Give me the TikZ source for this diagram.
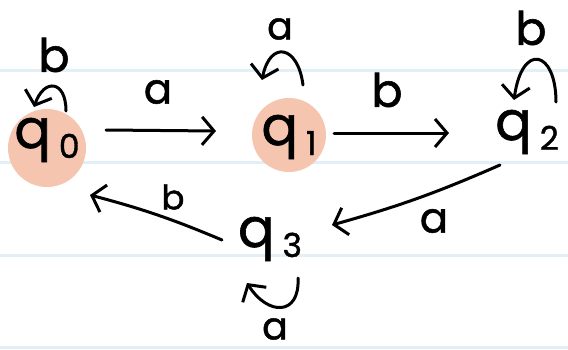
\documentclass[tikz,border=0pt]{standalone}
\usepackage{fontspec}
\setmainfont{Poppins}[FakeBold=1.2]
\usetikzlibrary{arrows.meta,calc}
\definecolor{peach}{HTML}{F6C5AF}
\definecolor{paperrule}{HTML}{E2EFF7}
\newcommand\stname[1]{\fontsize{54}{54}\selectfont q\kern8pt\raisebox{-10pt}{\fontsize{33}{33}\selectfont #1}}
\begin{document}
\begin{tikzpicture}[x=1pt,y=-1pt,
  st/.style={circle,inner sep=0pt,text height=30pt,text depth=10pt},
  acc/.style={st,fill=peach},
  trans/.style={line width=3pt,line cap=round,line join=round,-{Straight Barb[length=12pt,width=28pt]}},
  lbla/.style={inner sep=0pt,font=\fontsize{42}{42}\selectfont},
  lblb/.style={inner sep=0pt,font=\fontsize{46}{46}\selectfont}
]
\useasboundingbox (0,0) rectangle (568,349);
\fill[white] (0,0) rectangle (568,349);
\foreach \yy in {70,162,255,347} \draw[paperrule,line width=3pt] (0,\yy) -- (568,\yy);

\node[acc,minimum size=78pt,text height=20pt,text depth=20pt] (q0) at (47,148) {\stname{0}};
\node[acc,minimum size=74pt] (q1) at (289,135) {\stname{1}};
\node[st] (q2) at (527,130) {\stname{2}};
\node[st] (q3) at (270,237) {\stname{3}};

% straight transitions
\draw[trans] ($(q0)+(59,-18)$) -- ($(q1)+(-73,-4)$);
\draw[trans] ($(q1)+(45,-2)$) -- ($(q2)+(-78,3)$);
\draw[trans] ($(q2)+(-27,35)$) to[bend left=4] ($(q3)+(62,-12)$);
\draw[trans] ($(q3)+(-48,3)$) to[bend right=4] ($(q0)+(43,47)$);

% self loops
\draw[trans] ($(q0)+(19,-37)$) .. controls ($(q0)+(19,-68)$) and ($(q0)+(-3,-70)$) .. ($(q0)+(-13,-41)$);
\draw[trans] ($(q1)+(14,-50)$) .. controls ($(q1)+(9,-90)$) and ($(q1)+(-19,-95)$) .. ($(q1)+(-27,-55)$);
\draw[trans] ($(q2)+(29,-28)$) .. controls ($(q2)+(29,-80)$) and ($(q2)+(-5,-88)$) .. ($(q2)+(-13,-30)$);
\draw[trans] ($(q3)+(28,41)$) .. controls ($(q3)+(30,79)$) and ($(q3)+(-2,79)$) .. ($(q3)+(-23,46)$);

% labels
\node[lblb] (lb00) at (54,55) {b};
\node[lbla] (la01) at (158,92) {a};
\node[lbla,font=\fontsize{38}{38}\selectfont] (la11) at (280,29) {a};
\node[lblb] (lb12) at (387,90) {b};
\node[lblb] (lb22) at (531,28) {b};
\node[lbla] (la23) at (434,221) {a};
\node[lblb,font=\fontsize{34}{34}\selectfont] (lb30) at (173,197) {b};
\node[lbla,font=\fontsize{38}{38}\selectfont] (la33) at (275,329) {a};
\end{tikzpicture}
\end{document}
